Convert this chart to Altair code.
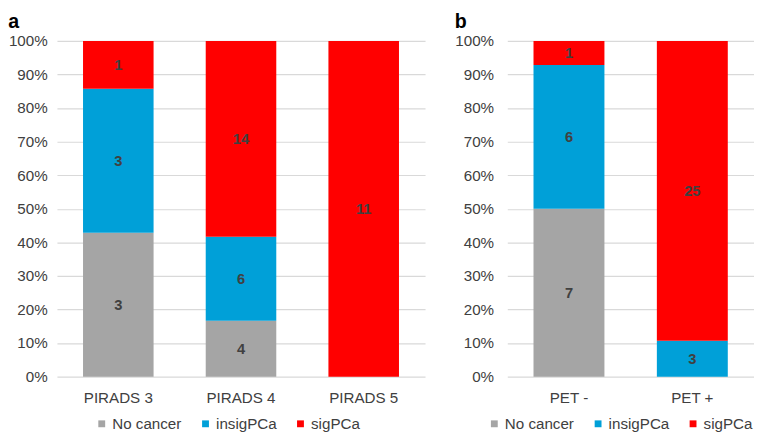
import altair as alt
import pandas as pd

# ---- data ----
categories_a = ["PIRADS 3", "PIRADS 4", "PIRADS 5"]
no_cancer_a = [3, 4, 0]
insig_a = [3, 6, 0]
sig_a = [1, 14, 11]

categories_b = ["PET -", "PET +"]
no_cancer_b = [7, 0]
insig_b = [6, 3]
sig_b = [1, 25]

groups = ["No cancer", "insigPCa", "sigPCa"]
colors = ["#A5A5A5", "#00A0D8", "#FF0000"]
y_ticks = [0, 0.1, 0.2, 0.3, 0.4, 0.5, 0.6, 0.7, 0.8, 0.9, 1.0]

FONT = "Liberation Sans"


def long_table(cats, series_list):
    rows = []
    for ci, c in enumerate(cats):
        for gi, (g, vals) in enumerate(zip(groups, series_list)):
            rows.append({"cat": c, "group": g, "idx": gi, "count": vals[ci]})
    return pd.DataFrame(rows)


df_a = long_table(categories_a, [no_cancer_a, insig_a, sig_a])
df_b = long_table(categories_b, [no_cancer_b, insig_b, sig_b])


def panel(df, cats, width, letter, legend_x, ypad):
    base = (
        alt.Chart(df)
        .transform_filter("datum.count > 0")
        .transform_stack(
            stack="count",
            groupby=["cat"],
            sort=[alt.SortField("idx", order="ascending")],
            as_=["y0", "y1"],
            offset="normalize",
        )
        .transform_calculate(mid="(datum.y0 + datum.y1) / 2")
    )
    x_axis = alt.Axis(
        labelAngle=0,
        ticks=False,
        domain=False,
        labelPadding=14,
        labelFontSize=15.5,
        labelFont=FONT,
        labelColor="#404040",
    )
    xscale = alt.Scale(paddingInner=0.425, paddingOuter=0.2125)
    y_axis = alt.Axis(
        values=y_ticks,
        format=".0%",
        domain=False,
        ticks=False,
        labelOverlap=False,
        labelPadding=ypad,
        labelFontSize=15.5,
        labelFont=FONT,
        labelColor="#404040",
        grid=True,
        gridColor="#D9D9D9",
        gridWidth=1.2,
    )
    yscale = alt.Scale(domain=[0, 1], nice=False)
    bars = base.mark_bar().encode(
        x=alt.X("cat:N", sort=cats, title=None, scale=xscale, axis=x_axis),
        y=alt.Y("y0:Q", title=None, scale=yscale, axis=y_axis),
        y2="y1:Q",
        color=alt.Color(
            "group:N",
            scale=alt.Scale(domain=groups, range=colors),
            legend=alt.Legend(
                orient="none",
                direction="horizontal",
                legendX=legend_x,
                legendY=383,
                title=None,
                symbolType="square",
                symbolSize=49,
                symbolStrokeWidth=0,
                labelFontSize=15.5,
                labelFont=FONT,
                labelColor="#404040",
                labelOffset=3,
                columnPadding=16,
                padding=0,
            ),
        ),
        order=alt.Order("idx:Q"),
    )
    labels = base.mark_text(
        font=FONT, fontSize=15, fontWeight="bold", color="#404040", baseline="middle"
    ).encode(
        x=alt.X("cat:N", sort=cats, title=None, scale=xscale, axis=x_axis),
        y=alt.Y("mid:Q", title=None, scale=yscale, axis=y_axis),
        text="count:Q",
    )
    return alt.layer(bars, labels).properties(
        width=width,
        height=343,
        title=alt.TitleParams(
            letter,
            anchor="start",
            fontSize=20,
            fontWeight="bold",
            font=FONT,
            color="black",
            baseline="alphabetic",
            offset=-14,
        ),
    )


chart_a = panel(df_a, categories_a, 376, "a", 38, 10)
chart_b = panel(df_b, categories_b, 252, "b", -21, 14)

chart = (
    alt.hconcat(chart_a, chart_b, spacing=30)
    .resolve_scale(color="independent")
    .properties(padding=0)
    .configure_view(stroke=None)
)

chart.save("out.html", embed_options={"renderer": "svg", "actions": False})
